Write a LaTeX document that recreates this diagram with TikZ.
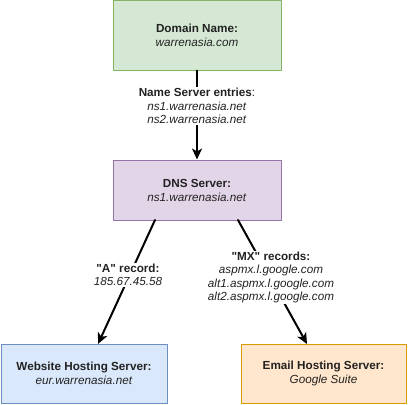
\documentclass[tikz,border=0pt]{standalone}
\usepackage{fontspec}
\setmainfont{Liberation Sans}
\usepackage{tikz}
\usetikzlibrary{arrows.meta}
\definecolor{txt}{HTML}{222222}
\definecolor{greenfill}{HTML}{D5E8D4}
\definecolor{greenline}{HTML}{82B366}
\definecolor{purplefill}{HTML}{E1D5E7}
\definecolor{purpleline}{HTML}{9673A6}
\definecolor{bluefill}{HTML}{DAE8FC}
\definecolor{blueline}{HTML}{6C8EBF}
\definecolor{orangefill}{HTML}{FFE6CC}
\definecolor{orangeline}{HTML}{D79B00}

\begin{document}
\begin{tikzpicture}[line cap=round,line join=round,>={Stealth[length=11pt,width=10pt,inset=3pt]},x=1pt,y=-1pt,
  box/.style={draw,line width=1pt,inner sep=0pt,align=center,text=txt,
    font=\fontsize{11.7}{14}\selectfont},
  rec/.style={fill=white,inner sep=1pt,align=center,text=txt,
    font=\fontsize{11.7}{13.6}\selectfont},
  link/.style={->,line width=2pt,black}]

\useasboundingbox (0,0) rectangle (408,405);

\node [box,fill=greenfill,draw=greenline,minimum width=168pt,minimum height=70pt] (dom) at (197,35) {\textbf{Domain Name:}\\\textit{warrenasia.com}};
\node [box,fill=purplefill,draw=purpleline,minimum width=168pt,minimum height=60pt] (dns) at (197,190) {\textbf{DNS Server:}\\\textit{ns1.warrenasia.net}};
\node [box,fill=bluefill,draw=blueline,minimum width=166pt,minimum height=59pt] (web) at (84,373.5) {\textbf{Website Hosting Server:}\\\textit{eur.warrenasia.net}};
\node [box,fill=orangefill,draw=orangeline,minimum width=165pt,minimum height=59pt] (mail) at (323.5,373.5) {\textbf{Email Hosting Server:}\\\textit{Google Suite}};

\coordinate (dnsA) at (155,220);
\coordinate (dnsMX) at (238,220);
\coordinate (webIn) at (98,344);
\coordinate (mailIn) at (307,344);

\draw [link] (dom.south) -- (dns.north);
\draw [link] (dnsA) -- (webIn);
\draw [link] (dnsMX) -- (mailIn);

\node [rec] (nslabel) at (197,106) {\textbf{Name Server entries}:\\\textit{ns1.warrenasia.net}\\\textit{ns2.warrenasia.net}};
\node [rec] (alabel) at (128,275) {\textbf{\textquotedbl A\textquotedbl\ record:}\\\textit{185.67.45.58}};
\node [rec] (mxlabel) at (271,277.5) {\textbf{\textquotedbl MX\textquotedbl\ records:}\\\textit{aspmx.l.google.com}\\\textit{alt1.aspmx.l.google.com}\\\textit{alt2.aspmx.l.google.com}};
\end{tikzpicture}
\end{document}
